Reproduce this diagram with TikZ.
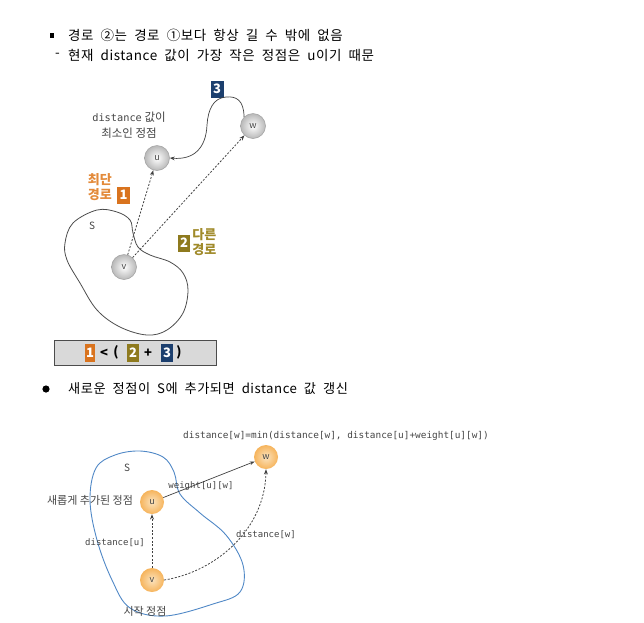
\documentclass[tikz,border=0pt]{standalone}
\usepackage{fontspec}
\setmainfont{Noto Sans CJK KR}
\newfontfamily\bodyfont{Noto Sans CJK KR}[LetterSpace=4.0, WordSpace=2.0]
\newfontfamily\monofont{DejaVu Sans Mono}
\usepackage{xcolor}
\usetikzlibrary{arrows.meta, positioning, shapes.geometric, calc, shadings}

\definecolor{boxorange}{HTML}{D9731E}
\definecolor{txtorange}{HTML}{E38A3A}
\definecolor{boxolive}{HTML}{8E7A1E}
\definecolor{txtolive}{HTML}{A08A2A}
\definecolor{boxnavy}{HTML}{1C3F6E}
\definecolor{setblue}{HTML}{5088C6}
\definecolor{labelgray}{HTML}{444444}
\definecolor{peach}{HTML}{FBE3BE}
\definecolor{peachrim}{HTML}{F6B45C}
\definecolor{ballrim}{HTML}{B8B8B8}

\begin{document}
\begin{tikzpicture}[
  x=1pt, y=-1pt,
  bodytext/.style={anchor=west, inner sep=0pt, font=\bodyfont\fontsize{13.5}{15}\selectfont},
  ball/.style={circle, minimum size=25pt, inner sep=0pt, draw=gray!75, line width=0.5pt,
               shading=radial, inner color=white, outer color=ballrim,
               text=labelgray, font=\fontsize{9}{10}\selectfont},
  onode/.style={circle, minimum size=24pt, inner sep=0pt, shading=radial,
                inner color=peach, outer color=peachrim,
                text=labelgray, font=\fontsize{9}{10}\selectfont},
  numbox/.style={fill=#1, text=white, inner sep=0pt, minimum width=13pt, minimum height=17pt,
                 font=\bfseries\fontsize{13}{14}\selectfont},
  smallbox/.style={fill=#1, text=white, inner sep=0pt, minimum width=11pt, minimum height=18pt,
                   font=\bfseries\fontsize{13}{14}\selectfont},
  lbl/.style={inner sep=0pt, text=labelgray, font=\fontsize{11}{13}\selectfont, align=center},
  mono/.style={inner sep=0pt, text=labelgray, font=\monofont\fontsize{9}{10}\selectfont},
  colortxt/.style={inner sep=0pt, text=#1, font=\bfseries\fontsize{13}{15}\selectfont, align=left},
  arrow/.style={-{Stealth[scale=0.8]}, line width=0.7pt, draw=black!75},
  dasharrow/.style={-{Stealth[scale=0.8]}, line width=0.8pt, draw=black!75, dash pattern=on 2pt off 1.6pt},
]
  \useasboundingbox (0,0) rectangle (644,622);

  % header lines
  \fill (49.5,33) rectangle (54,37.5);
  \node[bodytext] (line1) at (68,35) {경로 ②는 경로 ①보다 항상 길 수 밖에 없음};
  \node[bodytext] (dash1) at (55,55) {-};
  \node[bodytext] (line2) at (68,55) {현재 distance 값이 가장 작은 정점은 u이기 때문};

  % first diagram
  \draw[line width=0.8pt, black!70] plot[smooth cycle, tension=0.6] coordinates {
    (73,223) (97,210) (117,212) (130,220) (133,233) (138,247) (150,255) (170,262)
    (183,273) (188,290) (183,313) (167,330) (147,335) (120,327) (97,310) (80,283) (67,260) (65,243)};
  \node[lbl, font=\fontsize{10}{11}\selectfont] (setS) at (92,226) {S};

  \node[ball] (u) at (157,158) {u};
  \node[ball] (w) at (253,126) {w};
  \node[ball] (v) at (124,267) {v};

  \node[lbl, font=\fontsize{11.5}{16}\selectfont] (minlbl) at (129,125) {{\monofont\fontsize{10.3}{12}\selectfont distance} 값이\\최소인 정점};

  \node[numbox=boxnavy] (b3) at (217,89) {3};
  \draw[arrow] (w.135) .. controls (244,100) and (236,96) .. (226,97)
    .. controls (213,98) and (208,110) .. (207,125)
    .. controls (206,148) and (194,160) .. (u.east);

  \draw[dasharrow] (v) -- (u);
  \draw[dasharrow] (v) -- (w);

  \node[colortxt=txtorange, anchor=east] (shortlbl) at (112,187) {최단\\경로};
  \node[numbox=boxorange, right=5pt of shortlbl.east, yshift=-8pt, minimum width=13pt] (b1) {1};

  \node[numbox=boxolive, minimum width=12pt] (b2) at (184,243) {2};
  \node[colortxt=txtolive, right=2pt of b2.east, yshift=1pt] (otherlbl) {다른\\경로};

  % inequality box
  \node[draw=black!70, fill=black!15, line width=0.8pt, minimum width=162pt, minimum height=25pt, inner sep=0pt] (ineq) at (135,353) {};
  \node[smallbox=boxorange, minimum width=10pt] (i1) at (90,353) {1};
  \node[inner sep=0pt, font=\bfseries\fontsize{13}{14}\selectfont] (ilt) at (104,353) {<};
  \node[inner sep=0pt, font=\bfseries\fontsize{13}{14}\selectfont] (ilp) at (116,352) {(};
  \node[smallbox=boxolive, minimum width=12pt] (i2) at (133,353) {2};
  \node[inner sep=0pt, font=\bfseries\fontsize{13}{14}\selectfont] (iplus) at (148,353) {+};
  \node[smallbox=boxnavy, minimum width=12pt] (i3) at (167,353) {3};
  \node[inner sep=0pt, font=\bfseries\fontsize{13}{14}\selectfont] (irp) at (179,352) {)};

  % second header
  \fill (46,389) circle (3.6pt);
  \node[bodytext, font=\bodyfont\fontsize{13.2}{15}\selectfont] (line3) at (68,389) {새로운 정점이 S에 추가되면 distance 값 갱신};

  % second diagram
  \node[mono, font=\monofont\fontsize{9.4}{11}\selectfont] (update) at (336,436) {distance[w]=min(distance[w], distance[u]+weight[u][w])};

  \draw[line width=0.9pt, setblue] plot[smooth cycle, tension=0.6] coordinates {
    (140,451) (163,457) (174,472) (180,494) (200,513) (226,535) (243,565) (240,592)
    (213,604) (165,616) (130,608) (112,580) (97,540) (90,500) (96,468) (115,455)};
  \node[lbl, font=\fontsize{10}{11}\selectfont] (setS2) at (127,468) {S};

  \node[onode] (u2) at (152,502) {u};
  \node[onode] (w2) at (266,457) {w};
  \node[onode] (v2) at (152,580) {v};

  \draw[arrow] (u2) -- (w2);
  \draw[dasharrow] (v2) -- (u2);
  \draw[dasharrow] (v2.east) .. controls (215,572) and (265,530) .. (w2.south);

  \node[mono] (wlbl) at (201,486) {weight[u][w]};
  \node[lbl] (newlbl) at (90,500) {새롭게 추가된 정점};
  \node[mono] (dulbl) at (115,543) {distance[u]};
  \node[mono] (dwlbl) at (266,535) {distance[w]};
  \node[lbl] (startlbl) at (145,611) {시작 정점};
\end{tikzpicture}
\end{document}
